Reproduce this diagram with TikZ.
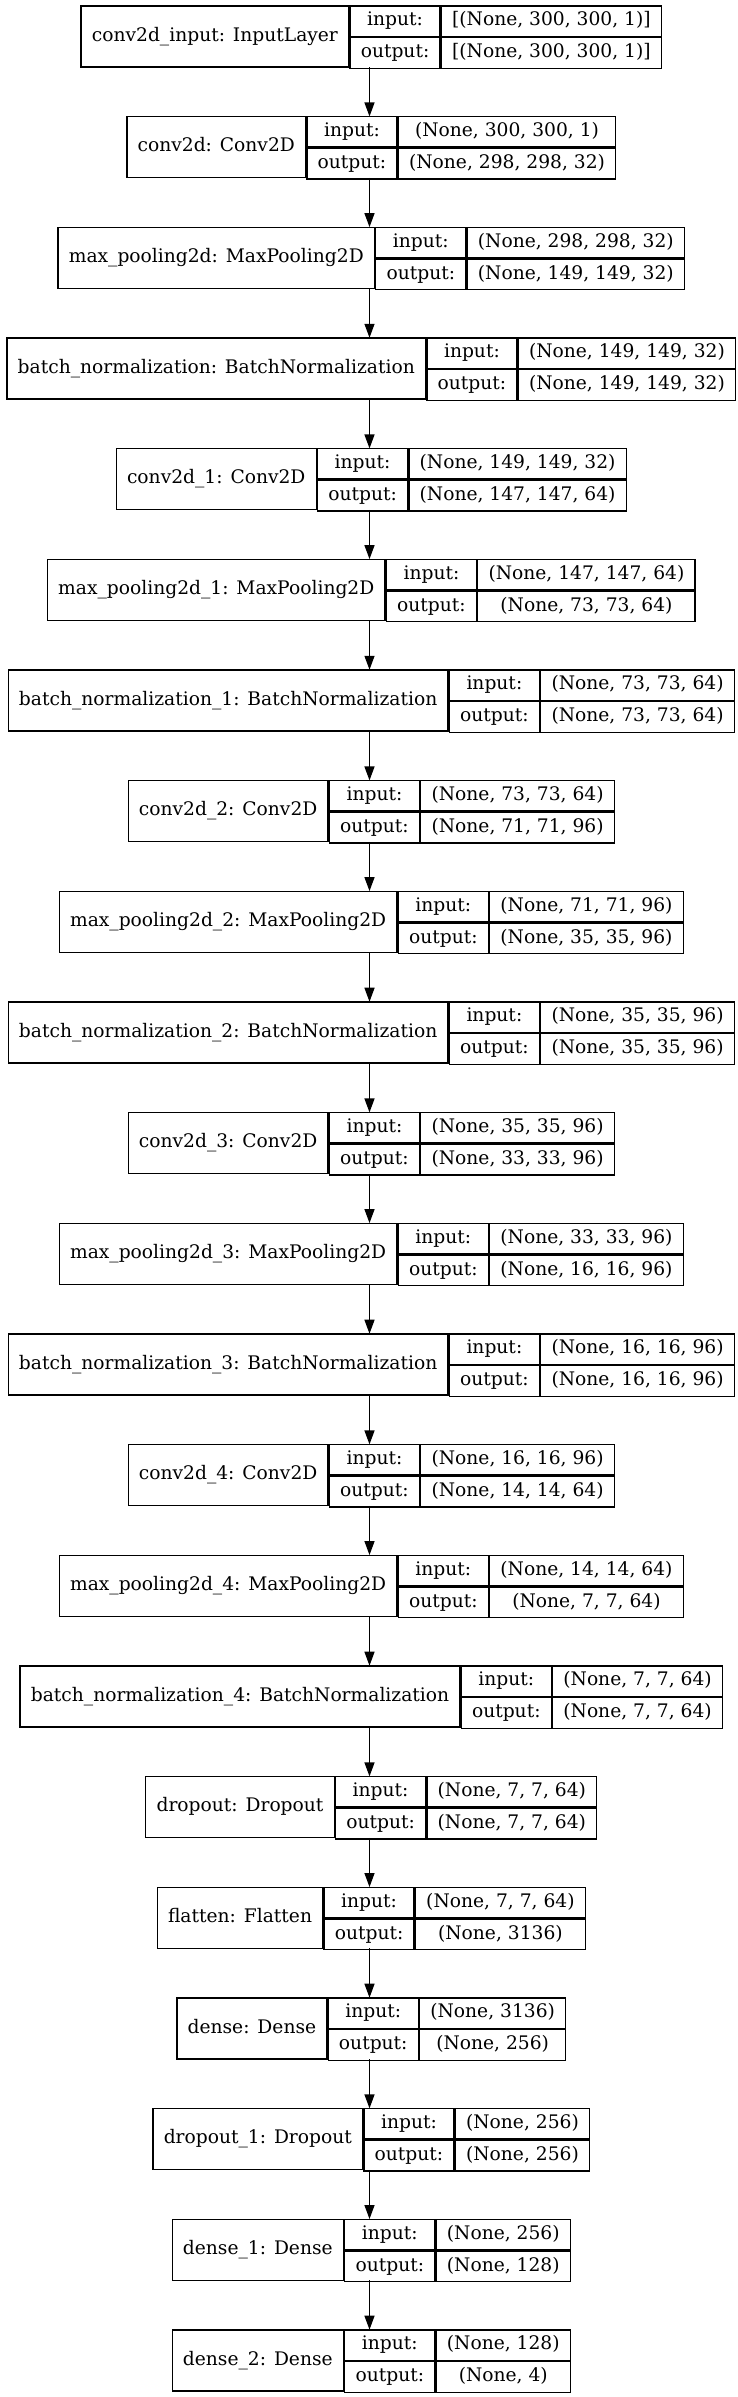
\documentclass[tikz,border=0pt]{standalone}
\usepackage{fontspec}
\setmainfont{DejaVu Serif}
\usetikzlibrary{arrows.meta}
\newlength\wA \newlength\wB \newlength\wC \newlength\wD \newlength\wT
\newcommand\gvfont{\fontsize{18.67}{22}\selectfont}
\newcommand\gvpad{21.5pt}
\tikzset{
  gvbox/.style={shape=rectangle, inner sep=0pt, minimum height=61pt},
  gvcell/.style={shape=rectangle, draw=black, line width=1.33pt, inner sep=0pt,
    minimum height=30.5pt, font=\gvfont, text height=13.5pt, text depth=4pt, align=center},
  gvarrow/.style={line width=1.33pt, -{Triangle[length=14pt,width=10pt]}}
}
\newcommand\alllayers{%
\LY{0}{conv2d\_input: InputLayer}{[(None, 300, 300, 1)]}{[(None, 300, 300, 1)]}%
\LY{1}{conv2d: Conv2D}{(None, 300, 300, 1)}{(None, 298, 298, 32)}%
\LY{2}{max\_pooling2d: MaxPooling2D}{(None, 298, 298, 32)}{(None, 149, 149, 32)}%
\LY{3}{batch\_normalization: BatchNormalization}{(None, 149, 149, 32)}{(None, 149, 149, 32)}%
\LY{4}{conv2d\_1: Conv2D}{(None, 149, 149, 32)}{(None, 147, 147, 64)}%
\LY{5}{max\_pooling2d\_1: MaxPooling2D}{(None, 147, 147, 64)}{(None, 73, 73, 64)}%
\LY{6}{batch\_normalization\_1: BatchNormalization}{(None, 73, 73, 64)}{(None, 73, 73, 64)}%
\LY{7}{conv2d\_2: Conv2D}{(None, 73, 73, 64)}{(None, 71, 71, 96)}%
\LY{8}{max\_pooling2d\_2: MaxPooling2D}{(None, 71, 71, 96)}{(None, 35, 35, 96)}%
\LY{9}{batch\_normalization\_2: BatchNormalization}{(None, 35, 35, 96)}{(None, 35, 35, 96)}%
\LY{10}{conv2d\_3: Conv2D}{(None, 35, 35, 96)}{(None, 33, 33, 96)}%
\LY{11}{max\_pooling2d\_3: MaxPooling2D}{(None, 33, 33, 96)}{(None, 16, 16, 96)}%
\LY{12}{batch\_normalization\_3: BatchNormalization}{(None, 16, 16, 96)}{(None, 16, 16, 96)}%
\LY{13}{conv2d\_4: Conv2D}{(None, 16, 16, 96)}{(None, 14, 14, 64)}%
\LY{14}{max\_pooling2d\_4: MaxPooling2D}{(None, 14, 14, 64)}{(None, 7, 7, 64)}%
\LY{15}{batch\_normalization\_4: BatchNormalization}{(None, 7, 7, 64)}{(None, 7, 7, 64)}%
\LY{16}{dropout: Dropout}{(None, 7, 7, 64)}{(None, 7, 7, 64)}%
\LY{17}{flatten: Flatten}{(None, 7, 7, 64)}{(None, 3136)}%
\LY{18}{dense: Dense}{(None, 3136)}{(None, 256)}%
\LY{19}{dropout\_1: Dropout}{(None, 256)}{(None, 256)}%
\LY{20}{dense\_1: Dense}{(None, 256)}{(None, 128)}%
\LY{21}{dense\_2: Dense}{(None, 128)}{(None, 4)}%
}
\newcommand\measurelayer[4]{%
  \settowidth\wA{\gvfont #2}\addtolength\wA{\gvpad}%
  \settowidth\wB{\gvfont output:}\addtolength\wB{\gvpad}%
  \settowidth\wC{\gvfont #3}\settowidth\wD{\gvfont #4}%
  \ifdim\wD>\wC \wC=\wD\fi \addtolength\wC{\gvpad}%
  \wT=\wA \advance\wT\wB \advance\wT\wC
  \expandafter\xdef\csname gvA#1\endcsname{\the\wA}%
  \expandafter\xdef\csname gvB#1\endcsname{\the\wB}%
  \expandafter\xdef\csname gvC#1\endcsname{\the\wC}%
  \expandafter\xdef\csname gvT#1\endcsname{\the\wT}%
}
\newcommand\drawlayer[4]{%
  \edef\tA{\csname gvA#1\endcsname}\edef\tB{\csname gvB#1\endcsname}%
  \edef\tC{\csname gvC#1\endcsname}\edef\tT{\csname gvT#1\endcsname}%
  \pgfmathsetmacro\yc{36.5+110.66*#1}%
  \node[gvbox, minimum width=\tT] (L#1) at (369.5,\yc) {};
  \node[gvcell, minimum width=\tA, minimum height=61pt, anchor=west] (L#1n) at (L#1.west) {#2};
  \node[gvcell, minimum width=\tB, anchor=north west] (L#1i) at (L#1n.north east) {input:};
  \node[gvcell, minimum width=\tB, anchor=north west] (L#1o) at (L#1i.south west) {output:};
  \node[gvcell, minimum width=\tC, anchor=north west] (L#1vi) at (L#1i.north east) {#3};
  \node[gvcell, minimum width=\tC, anchor=north west] (L#1vo) at (L#1vi.south west) {#4};
}
\begin{document}
\let\LY\measurelayer\alllayers
\begin{tikzpicture}[x=1pt,y=-1pt]
\fill[white] (0,0) rectangle (737,2397);
\useasboundingbox (0,0) rectangle (737,2397);
\let\LY\drawlayer
\alllayers
\foreach \i in {0,...,20}{
  \pgfmathtruncatemacro\j{\i+1}
  \draw[gvarrow] (L\i.south) -- (L\j.north);
}
\end{tikzpicture}
\end{document}
